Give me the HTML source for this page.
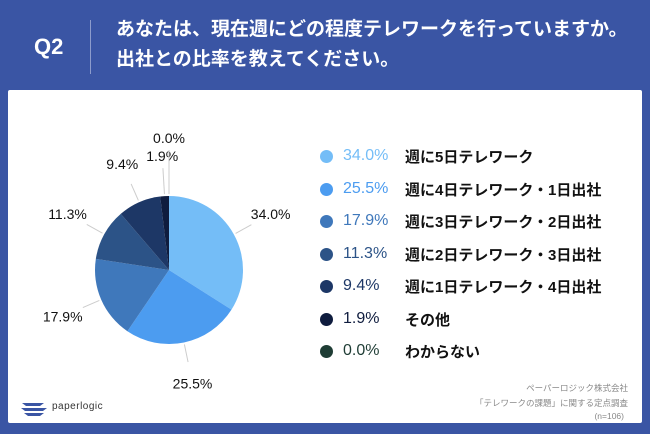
<!DOCTYPE html>
<html><head><meta charset="utf-8"><style>
body{margin:0;width:650px;height:434px;background:#3a55a4;font-family:"Liberation Sans","Noto Sans CJK JP",sans-serif;position:relative;overflow:hidden}
.abs{position:absolute}
#panel{left:8px;top:90px;width:634px;height:333px;background:#fff;border-radius:2px}
.q{left:34px;top:34px;color:#fff;font-size:22px;font-weight:bold}
.sep{left:90px;top:20px;width:1px;height:54px;background:#8d9ccc}
.title{left:116px;top:15px;color:#fff;font-size:19px;font-weight:bold;line-height:30px}
.leg{position:absolute;left:320px;height:20px;font-size:15px;font-weight:bold;color:#111;white-space:nowrap}
.leg .dot{position:absolute;left:0;top:4px;width:13px;height:13px;border-radius:50%}
.leg .pct{position:absolute;left:23px;top:1px;font-weight:normal;font-size:16px}
.leg .lab{position:absolute;left:85px;top:0}
.src{right:22px;font-size:8.5px;color:#888;text-align:right}
</style></head><body>
<div class="abs q">Q2</div>
<div class="abs sep"></div>
<div class="abs title">あなたは、現在週にどの程度テレワークを行っていますか。<br>出社との比率を教えてください。</div>
<div class="abs" id="panel"></div>
<svg class="abs" style="left:0;top:0" width="650" height="434" id="pie"></svg>
<div id="legend"></div>
<div class="abs src" style="top:382px">ペーパーロジック株式会社</div>
<div class="abs src" style="top:397px">「テレワークの課題」に関する定点調査</div>
<div class="abs src" style="top:411px;right:26px">(n=106)</div>
<div class="abs" style="left:20px;top:399px">
<svg width="30" height="18"><path d="M2 4h22l-4 3H6z" fill="#3a55a4"/><path d="M1 9h26l-4 3H5z" fill="#3a55a4"/><path d="M4 14h20l-4 3H8z" fill="#3a55a4"/></svg>
<span style="position:absolute;left:32px;top:2px;font-size:10px;color:#333;letter-spacing:0.5px">paperlogic</span></div>
<script>
const categories=["週に5日テレワーク","週に4日テレワーク・1日出社","週に3日テレワーク・2日出社","週に2日テレワーク・3日出社","週に1日テレワーク・4日出社","その他","わからない"];
const values=[34.0,25.5,17.9,11.3,9.4,1.9,0.0];
const colors=["#74bdf7","#4c9cf0","#3f78bb","#2c5387","#1d3766","#0f1c3e","#1f3d35"];
const cx=169,cy=270,r=74;
const svg=document.getElementById('pie');
const NS="http://www.w3.org/2000/svg";
const total=values.reduce((a,b)=>a+b,0);
function pt(a,rr){return [cx+rr*Math.sin(a),cy-rr*Math.cos(a)];}
let a0=0;
values.forEach((v,i)=>{
  const a1=a0+v/total*2*Math.PI;
  if(v>0){
    const p0=pt(a0,r),p1=pt(a1,r);
    const p=document.createElementNS(NS,'path');
    p.setAttribute('d',`M${cx},${cy}L${p0[0]},${p0[1]}A${r},${r} 0 ${a1-a0>Math.PI?1:0} 1 ${p1[0]},${p1[1]}Z`);
    p.setAttribute('fill',colors[i]);
    
    
    svg.appendChild(p);
  }
  const m=(a0+a1)/2;
  let lr=r+42, s=pt(m,r+2), e=pt(m,r+20);
  if(i==6){e=pt(m,r+46);lr=r+58;}
  if(i==5){e=pt(m,r+28);lr=r+40;}
  const l=document.createElementNS(NS,'line');
  l.setAttribute('x1',s[0]);l.setAttribute('y1',s[1]);l.setAttribute('x2',e[0]);l.setAttribute('y2',e[1]);
  l.setAttribute('stroke','#ccc');
  
  
  svg.appendChild(l);
  const t=document.createElementNS(NS,'text');
  const tp=pt(m,lr);
  t.setAttribute('x',tp[0]);t.setAttribute('y',tp[1]+5);
  t.setAttribute('text-anchor','middle');
  t.setAttribute('font-size','14');t.setAttribute('fill','#111');
  t.setAttribute('font-family','Liberation Sans, sans-serif');
  t.textContent=values[i].toFixed(1)+'%';
  
  
  svg.appendChild(t);
  a0=a1;
});
const lg=document.getElementById('legend');
categories.forEach((c,i)=>{
  const d=document.createElement('div');
  d.className='leg';d.style.top=(146+i*32.5)+'px';
  
  
  d.innerHTML=`<span class="dot" style="background:${colors[i]}"></span><span class="pct" style="color:${colors[i]}">${values[i].toFixed(1)}%</span><span class="lab">${c}</span>`;
  lg.appendChild(d);
});
</script>
</body></html>
